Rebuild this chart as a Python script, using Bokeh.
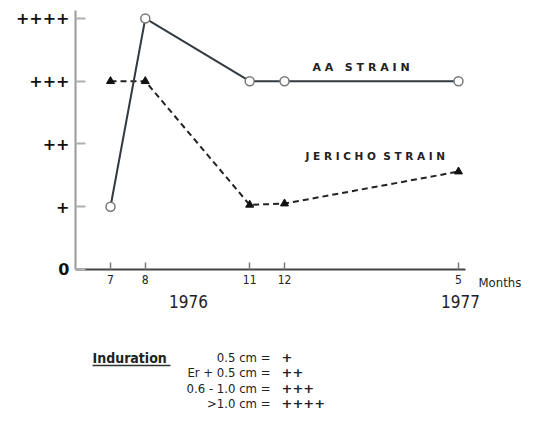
from bokeh.plotting import figure
from bokeh.models import Range1d, FixedTicker, Label, ColumnDataSource
from bokeh.embed import file_html
from bokeh.resources import INLINE

# ---- data ----
month_offsets = [0, 1, 4, 5, 10]          # months since July 1976
month_labels = ["7", "8", "11", "12", "5"]
aa_strain = [1, 4, 3, 3, 3]
jericho_strain = [3, 3, 1.03, 1.05, 1.56]
level_ticks = [0, 1, 2, 3, 4]
level_labels = ["0", "+", "++", "+++", "++++"]
legend_left = ["0.5 cm =", "Er + 0.5 cm =", "0.6 - 1.0 cm =", ">1.0 cm ="]
legend_right = ["+", "++", "+++", "++++"]

FONT = "DejaVu Sans Condensed"

p = figure(width=535, height=427, output_backend="svg", toolbar_location=None,
           x_range=Range1d(-1.0057, 12.213), y_range=Range1d(-2.518, 4.127),
           min_border_left=75, min_border_right=0, min_border_top=10,
           min_border_bottom=0)
p.outline_line_color = None
p.xgrid.visible = False
p.ygrid.visible = False
p.background_fill_color = "white"
p.border_fill_color = "white"

# y axis
ya = p.yaxis[0]
ya.ticker = FixedTicker(ticks=level_ticks)
ya.major_label_overrides = {t: l for t, l in zip(level_ticks, level_labels)}
ya.bounds = (0, 4.127)
ya.major_tick_in = 10
ya.major_tick_out = 0
ya.minor_tick_line_color = None
ya.major_tick_line_color = "#b0b0b0"
ya.major_tick_line_width = 2
ya.axis_line_color = "#999999"
ya.axis_line_width = 2
ya.major_label_text_font = "DejaVu Sans"
ya.major_label_text_font_style = "bold"
ya.major_label_text_font_size = "16px"
ya.major_label_text_color = "#111111"
ya.major_label_standoff = 6

# x axis (drawn at level 0 inside the frame)
xa = p.xaxis[0]
xa.fixed_location = 0
xa.bounds = (-1.0057, 10.2)
xa.ticker = FixedTicker(ticks=month_offsets)
xa.major_label_overrides = {t: l for t, l in zip(month_offsets, month_labels)}
xa.major_tick_in = 7
xa.major_tick_out = 0
xa.minor_tick_line_color = None
xa.major_tick_line_color = "#777777"
xa.major_tick_line_width = 1.5
xa.axis_line_color = "#444444"
xa.axis_line_width = 1.8
xa.major_label_text_font = FONT
xa.major_label_text_font_size = "12px"
xa.major_label_text_color = "#222222"
xa.major_label_standoff = 6

src = ColumnDataSource(dict(x=month_offsets, aa=aa_strain, jer=jericho_strain))

p.line("x", "jer", source=src, line_color="#222222", line_width=2, line_dash="6 4")
p.scatter("x", "jer", source=src, marker="triangle", size=8,
          fill_color="#111111", line_color="#111111")

p.line("x", "aa", source=src, line_color="#333a40", line_width=2)
p.scatter("x", "aa", source=src, marker="circle", size=9,
          fill_color="white", line_color="#777777", line_width=1.5)

def lab(x, y, text, size="12px", align="left", bold=False, font=FONT, color="#222222"):
    p.add_layout(Label(x=x, y=y, text=text, text_font=font, text_font_size=size,
                       text_align=align, text_baseline="middle",
                       text_font_style="bold" if bold else "normal",
                       text_color=color, x_units="canvas", y_units="canvas"))

NB = "\u00a0"
# strain labels (canvas pixel positions)
lab(312, 67, f"A A{NB*3}S T R A I N", size="11px", bold=True, font="DejaVu Sans")
lab(305, 155, f"J E R I C H O{NB*2}S T R A I N", size="10.5px", bold=True, font="DejaVu Sans")

# months / years
lab(478, 282, "Months", size="13px")
lab(188, 301, "1976", size="17px", align="center")
lab(460, 301, "1977", size="17px", align="center")

# induration legend
leg_y = [357, 372, 388, 403]
lab(92, 357, "Induration", size="14px", bold=True, font=FONT)
p.segment(x0=[-0.517], y0=[-1.53], x1=[1.724], y1=[-1.53],
          line_color="#333333", line_width=1.5)
for yy, l, r in zip(leg_y, legend_left, legend_right):
    lab(270, yy, l, size="13px", align="right")
    lab(281, yy, r, size="13px", bold=True, font="DejaVu Sans")

open("out.html", "w").write(file_html(p, INLINE))
